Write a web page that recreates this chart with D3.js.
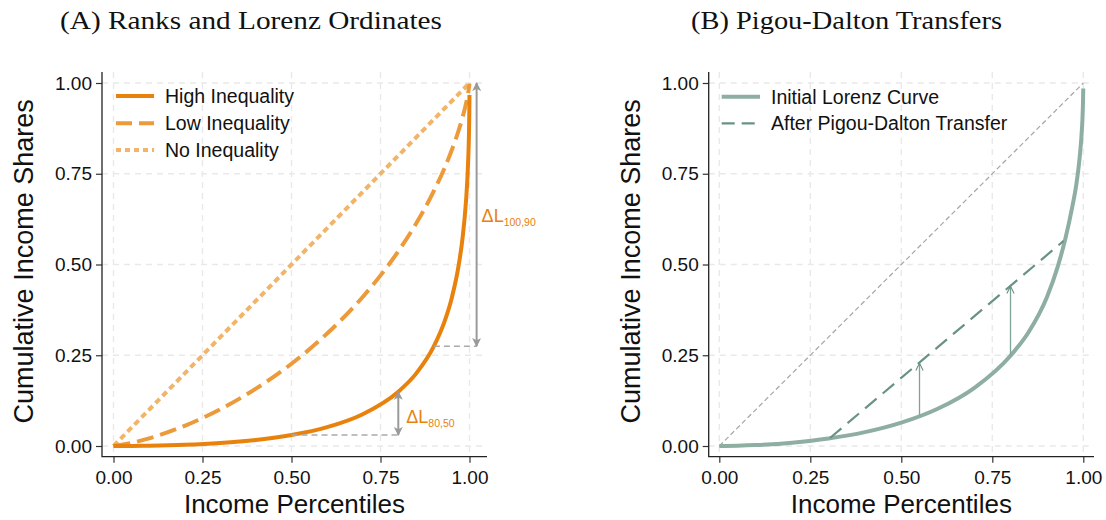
<!DOCTYPE html>
<html>
<head>
<meta charset="utf-8">
<script src="https://cdn.jsdelivr.net/npm/d3@7"></script>
<style>
  body { margin: 0; background: #fff; }
  svg { display: block; }
  text { font-family: "Liberation Sans", Arial, sans-serif; fill: #111; }
  .title { font-family: "Liberation Serif", "DejaVu Serif", serif; }
</style>
</head>
<body>
<svg id="chart" width="1106" height="520"></svg>
<script>
// ---- data ----
const tickValues = [0, 0.25, 0.5, 0.75, 1];
const tickLabels = ["0.00", "0.25", "0.50", "0.75", "1.00"];

// panel A: Lorenz curves (percentile, cumulative share)
const gridP = [0, 0.05, 0.1, 0.2, 0.3, 0.4, 0.5, 0.6, 0.7, 0.8, 0.85, 0.9, 0.93, 0.95, 0.97, 0.98, 0.99, 0.995, 0.999, 0.9995, 0.9999];
const highL = [0, 0.0002, 0.0008, 0.0032, 0.0081, 0.0165, 0.0301, 0.0519, 0.0876, 0.1496, 0.1994, 0.2749, 0.3431, 0.4071, 0.5003, 0.569, 0.6723, 0.7567, 0.8869, 0.9207, 0.967];
const lowL = [0, 0.0083, 0.0211, 0.0557, 0.1013, 0.158, 0.2266, 0.3097, 0.4106, 0.5365, 0.6127, 0.7025, 0.766, 0.8146, 0.8709, 0.9038, 0.9425, 0.966, 0.9904, 0.994, 0.9985];
const equalP = [0, 1];
const equalL = [0, 1];

// panel A: ordinate gaps
const gapAt = [0.8, 1.02];
const gapFromP = [0.5, 0.9];
const gapLow = [0.0301, 0.2749];
const gapHigh = [0.1496, 1.0];
const gapLabel = ["80,50", "100,90"];

// panel B: initial curve and transfer
const initL = [0, 0.0008, 0.0025, 0.0091, 0.0205, 0.0381, 0.0643, 0.1026, 0.1597, 0.2488, 0.3142, 0.41, 0.495, 0.568, 0.66, 0.715, 0.795, 0.855, 0.94, 0.962, 0.985];
const transferP = [0.304, 0.946];
const transferL = [0.022, 0.565];
const moveP = [0.55, 0.8];
const moveFrom = [0.085, 0.249];
const moveTo = [0.228, 0.44];

// ---- layout ----
const svg = d3.select("#chart");
const orangeHigh = "#e8820c", orangeLow = "#ec9a3a", orangeNone = "#f1b468";
const greenInit = "#8eaea2", greenAfter = "#6a9283", arrowGray = "#9a9a9a";

const defs = svg.append("defs");
defs.append("marker")
    .attr("id", "triEnd").attr("viewBox", "0 0 10 10")
    .attr("refX", 9).attr("refY", 5)
    .attr("markerWidth", 4.5).attr("markerHeight", 4.5)
    .attr("markerUnits", "strokeWidth").attr("orient", "auto-start-reverse")
  .append("path").attr("d", "M0,0 L10,5 L0,10 L2.5,5 Z").attr("fill", arrowGray);
defs.append("marker")
    .attr("id", "openEnd").attr("viewBox", "0 0 10 10")
    .attr("refX", 9).attr("refY", 5)
    .attr("markerWidth", 7).attr("markerHeight", 7)
    .attr("markerUnits", "strokeWidth").attr("orient", "auto")
  .append("path").attr("d", "M1,1 L9,5 L1,9").attr("fill", "none")
    .attr("stroke", greenAfter).attr("stroke-width", 1.2);

function drawPanel(p) {
    const g = svg.append("g");
    const x = d3.scaleLinear().domain([0, 1]).range([p.x0, p.x1]);
    const y = d3.scaleLinear().domain([0, 1]).range([446, 83]);

    // grid
    g.append("g").selectAll("line").data(tickValues).join("line")
        .attr("x1", p.left).attr("x2", p.right)
        .attr("y1", d => y(d)).attr("y2", d => y(d))
        .attr("stroke", "#e9e9e9").attr("stroke-width", 1.4).attr("stroke-dasharray", "6,5");
    g.append("g").selectAll("line").data(tickValues).join("line")
        .attr("y1", p.top).attr("y2", p.bottom)
        .attr("x1", d => x(d)).attr("x2", d => x(d))
        .attr("stroke", "#e9e9e9").attr("stroke-width", 1.4).attr("stroke-dasharray", "6,5");

    // axes
    const yAxis = g.append("g").attr("transform", `translate(${p.left},0)`)
        .call(d3.axisLeft(y).tickValues(tickValues).tickFormat((d, i) => tickLabels[i]).tickSize(6).tickPadding(4));
    const xAxis = g.append("g").attr("transform", `translate(0,${p.bottom})`)
        .call(d3.axisBottom(x).tickValues(tickValues).tickFormat((d, i) => tickLabels[i]).tickSize(6).tickPadding(8));
    [yAxis, xAxis].forEach(a => {
        a.select(".domain").remove();
        a.selectAll("line").attr("stroke", "#333").attr("stroke-width", 1.2);
        a.selectAll("text").attr("font-size", 19).attr("font-family", "Liberation Sans, Arial, sans-serif").attr("fill", "#111");
    });
    g.append("path")
        .attr("d", `M${p.left},${p.top}V${p.bottom}H${p.right}`)
        .attr("fill", "none").attr("stroke", "#222").attr("stroke-width", 1.3);

    g.append("text").attr("x", (p.left + p.right) / 2).attr("y", 513)
        .attr("text-anchor", "middle").attr("font-size", 26).text("Income Percentiles");
    g.append("text")
        .attr("transform", `translate(${p.left - 69},${(p.top + p.bottom) / 2 - 3}) rotate(-90)`)
        .attr("text-anchor", "middle").attr("font-size", 27).text("Cumulative Income Shares");

    g.append("text").attr("class", "title")
        .attr("x", p.titleX).attr("y", 29).attr("text-anchor", "middle")
        .attr("font-size", 26).attr("textLength", p.titleW).attr("lengthAdjust", "spacingAndGlyphs")
        .text(p.title);

    return { g, x, y };
}

const line = (x, y) => d3.line().x(d => x(d[0])).y(d => y(d[1])).curve(d3.curveMonotoneX);

// ---- panel A ----
{
    const { g, x, y } = drawPanel({
        left: 102, right: 487, top: 72, bottom: 456.7, x0: 113.5, x1: 469.5,
        title: "(A) Ranks and Lorenz Ordinates", titleX: 251, titleW: 382
    });
    const mk = line(x, y);
    g.append("path").datum(d3.zip(equalP, equalL)).attr("d", mk)
        .attr("fill", "none").attr("stroke", orangeNone).attr("stroke-width", 4).attr("stroke-dasharray", "6,4");
    g.append("path").datum(d3.zip(gridP, lowL)).attr("d", mk)
        .attr("fill", "none").attr("stroke", orangeLow).attr("stroke-width", 4).attr("stroke-dasharray", "17,7");
    g.append("path").datum(d3.zip(gridP, highL)).attr("d", mk)
        .attr("fill", "none").attr("stroke", orangeHigh).attr("stroke-width", 4);

    const labelDx = [8, 5], labelDy = [9.5, 7.5];
    gapAt.forEach((pp, i) => {
        g.append("line")
            .attr("x1", x(gapFromP[i])).attr("x2", x(pp))
            .attr("y1", y(gapLow[i])).attr("y2", y(gapLow[i]))
            .attr("stroke", "#aaa").attr("stroke-width", 1.5).attr("stroke-dasharray", "6,4");
        g.append("line")
            .attr("x1", x(pp)).attr("x2", x(pp))
            .attr("y1", y(gapLow[i])).attr("y2", y(gapHigh[i]))
            .attr("stroke", arrowGray).attr("stroke-width", 2)
            .attr("marker-start", "url(#triEnd)").attr("marker-end", "url(#triEnd)");
        const t = g.append("text")
            .attr("x", x(pp) + labelDx[i])
            .attr("y", (y(gapLow[i]) + y(gapHigh[i])) / 2 + labelDy[i])
            .attr("font-size", 18).style("fill", orangeHigh);
        t.append("tspan").text("ΔL");
        t.append("tspan").attr("font-size", 10.5).attr("dy", 4).text(gapLabel[i]);
    });

    const leg = [
        { label: "High Inequality", color: orangeHigh, dash: null },
        { label: "Low Inequality", color: orangeLow, dash: "16,7" },
        { label: "No Inequality", color: orangeNone, dash: "5,4" }
    ];
    const legY = [96, 123.3, 150];
    leg.forEach((d, i) => {
        g.append("line").attr("x1", 116).attr("x2", 154).attr("y1", legY[i]).attr("y2", legY[i])
            .attr("stroke", d.color).attr("stroke-width", 4).attr("stroke-dasharray", d.dash);
        g.append("text").attr("x", 165).attr("y", legY[i]).attr("dy", "0.35em")
            .attr("font-size", 19.5).text(d.label);
    });
}

// ---- panel B ----
{
    const { g, x, y } = drawPanel({
        left: 708.7, right: 1094, top: 72, bottom: 456.7, x0: 719.3, x1: 1083.3,
        title: "(B) Pigou-Dalton Transfers", titleX: 846.5, titleW: 311
    });
    const mk = line(x, y);
    g.append("path").datum(d3.zip(equalP, equalL)).attr("d", mk)
        .attr("fill", "none").attr("stroke", "#a5a5a5").attr("stroke-width", 1.2).attr("stroke-dasharray", "5,3");
    g.append("path").datum(d3.zip(gridP, initL)).attr("d", mk)
        .attr("fill", "none").attr("stroke", greenInit).attr("stroke-width", 4);
    g.append("path").datum(d3.zip(transferP, transferL)).attr("d", mk)
        .attr("fill", "none").attr("stroke", greenAfter).attr("stroke-width", 2.2).attr("stroke-dasharray", "15,8");
    moveP.forEach((pp, i) => {
        g.append("line")
            .attr("x1", x(pp)).attr("x2", x(pp))
            .attr("y1", y(moveFrom[i])).attr("y2", y(moveTo[i]))
            .attr("stroke", "#7fa396").attr("stroke-width", 1.3)
            .attr("marker-end", "url(#openEnd)");
    });

    const leg = [
        { label: "Initial Lorenz Curve", color: greenInit, w: 4, dash: null },
        { label: "After Pigou-Dalton Transfer", color: greenAfter, w: 2.2, dash: "13,7" }
    ];
    const legY = [96.7, 123.3];
    leg.forEach((d, i) => {
        g.append("line").attr("x1", 721.7).attr("x2", 760).attr("y1", legY[i]).attr("y2", legY[i])
            .attr("stroke", d.color).attr("stroke-width", d.w).attr("stroke-dasharray", d.dash);
        g.append("text").attr("x", 771).attr("y", legY[i]).attr("dy", "0.35em")
            .attr("font-size", 19.5).text(d.label);
    });
}
</script>
</body>
</html>
